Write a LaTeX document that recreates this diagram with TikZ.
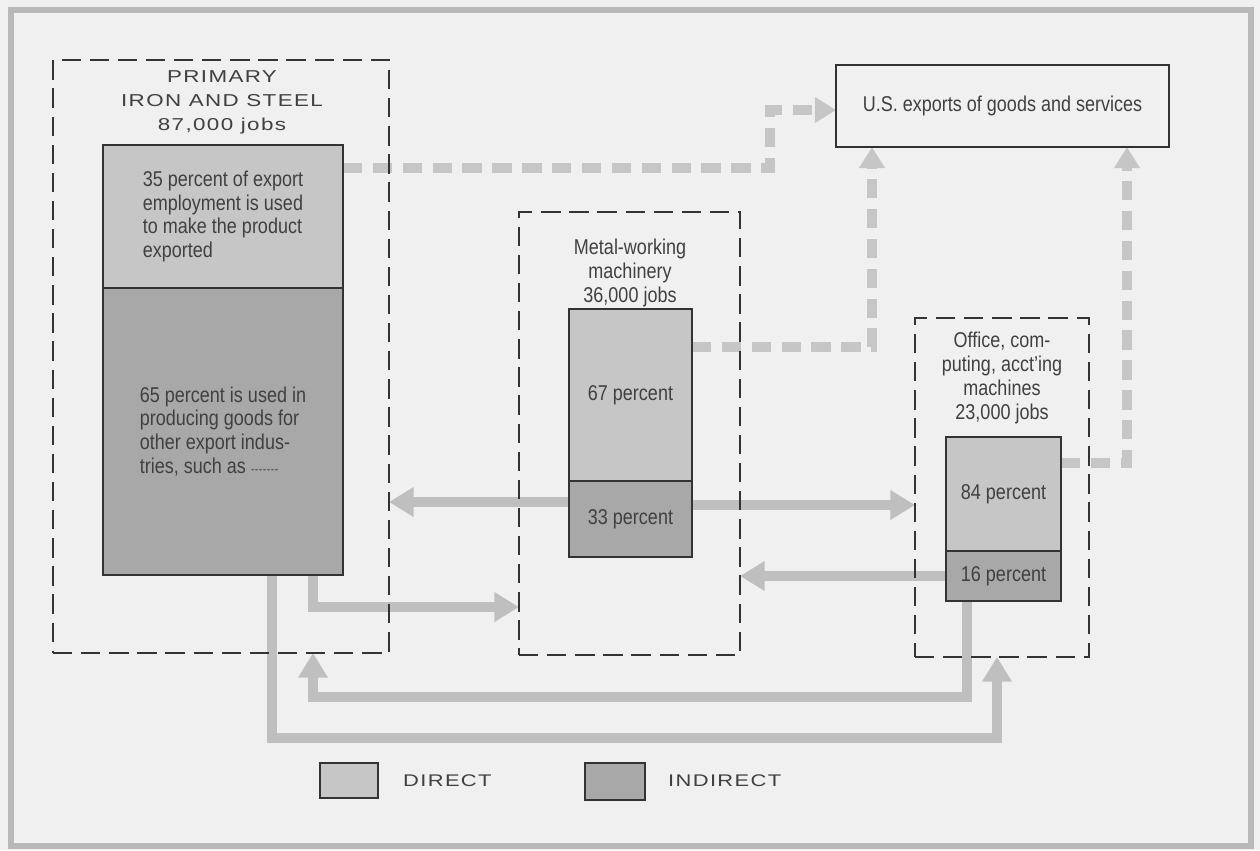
\documentclass[tikz,border=0pt]{standalone}
\usepackage{fontspec}
\setmainfont{Liberation Sans}
\newfontfamily\narrowfont[FakeStretch=0.84]{Liberation Sans}
\newfontfamily\widefont[FakeStretch=1.3, LetterSpace=8]{Liberation Sans}
\usetikzlibrary{arrows.meta, backgrounds}

\begin{document}
\begin{tikzpicture}[
        x=0.02cm, y=-0.02cm,
        font=\narrowfont\fontsize{12.2}{13.6}\selectfont,
        text=black!75,
        group/.style={draw=black!80, line width=1.1pt, dash pattern=on 11pt off 5pt, inner sep=0pt, outer sep=0pt},
        part/.style={draw=black!80, line width=1.6pt, inner sep=0pt, outer sep=0pt, align=left},
        direct/.style={part, fill=gray!45},
        indirect/.style={part, fill=gray!68},
        heading/.style={align=center, font=\widefont\fontsize{9.8}{13.6}\selectfont},
        flow/.style={draw=gray!50, line width=6.2pt, line join=miter, -{Triangle[length=14pt, width=16pt]}},
        export/.style={draw=gray!45, line width=5.7pt, dash pattern=on 11pt off 6pt, -{Triangle[length=12pt, width=14pt]}}
    ]
    \useasboundingbox (0,0) rectangle (1260,850);

    % ================= Groups =================
    \node[group, minimum width=6.72cm, minimum height=11.86cm] (grpA) at (221,356.5) {};
    \node[group, minimum width=4.42cm, minimum height=8.86cm] (grpB) at (629.5,433.5) {};
    \node[group, minimum width=3.48cm, minimum height=6.78cm] (grpC) at (1002,487.5) {};

    % Headings
    \node[heading] (hA) at (222,102) {PRIMARY\\IRON AND STEEL\\87,000 jobs};
    \node[align=center] (hB) at (630,273) {Metal-working\\machinery\\36,000 jobs};
    \node[align=center] (hC) at (1002,378) {Office, com-\\puting, acct’ing\\machines\\23,000 jobs};

    % Bars
    \node[direct, minimum width=4.8cm, minimum height=2.86cm] (pA1) at (223,216.5)
        {35 percent of export\\employment is used\\to make the product\\exported};
    \node[indirect, minimum width=4.8cm, minimum height=5.74cm] (pA2) at (223,431.5)
        {65 percent is used in\\producing goods for\\other export indus-\\tries, such as {\fontsize{7}{8}\selectfont -\kern0.3pt-\kern0.3pt-\kern0.3pt-\kern0.3pt-\kern0.3pt-\kern0.3pt-}};
    \node[direct, minimum width=2.46cm, minimum height=3.44cm] (pB1) at (630.5,395) {67 percent};
    \node[indirect, minimum width=2.46cm, minimum height=1.52cm] (pB2) at (630.5,519) {33 percent};
    \node[direct, minimum width=2.3cm, minimum height=2.28cm] (pC1) at (1003.5,494) {84 percent};
    \node[indirect, minimum width=2.3cm, minimum height=1.0cm] (pC2) at (1003.5,576) {16 percent};

    % Exports
    \node[part, line width=1.2pt, minimum width=6.66cm, minimum height=1.64cm] (us) at (1002.5,106)
        {U.S. exports of goods and services};

    % ================= Legend =================
    \node[direct, minimum width=1.16cm, minimum height=0.7cm] (keyD) at (349,780.5) {};
    \node[heading, anchor=west, font=\widefont\fontsize{9.6}{12}\selectfont] (keyDt) at (397,781) {DIRECT};
    \node[indirect, minimum width=1.2cm, minimum height=0.74cm] (keyI) at (615,781.5) {};
    \node[heading, anchor=west, font=\widefont\fontsize{9.6}{12}\selectfont] (keyIt) at (662,781) {INDIRECT};

    % ================= Flows =================
    \begin{scope}[on background layer]
        \fill[gray!12] (0,0) rectangle (1260,850);
        \draw[gray!55, line width=3pt] (11,10) rectangle (1251,846);

        % to exports
        \draw[export] (pA1.east |- 0,168) -| (770,110) -- (us.west |- 0,110);
        \draw[export] (pB1.east |- 0,347) -| (us.south -| 872,0);
        \draw[export] (pC1.east |- 0,463) -| (us.south -| 1127,0);

        % between industries
        \draw[flow] (pB2.west |- 0,502) -- (grpA.east |- 0,502);
        \draw[flow] (pB2.east |- 0,505) -- (grpC.west |- 0,505);
        \draw[flow] (pC2.west) -- (grpB.east |- pC2.west);
        \draw[flow] (pA2.south -| 313,0) |- (grpB.west |- 0,607);
        \draw[flow] (pC2.south -| 967,0) |- (313,697) -- (grpA.south -| 313,0);
        \draw[flow] (pA2.south -| 272,0) |- (997,738) -- (grpC.south -| 997,0);
    \end{scope}

\end{tikzpicture}
\end{document}
